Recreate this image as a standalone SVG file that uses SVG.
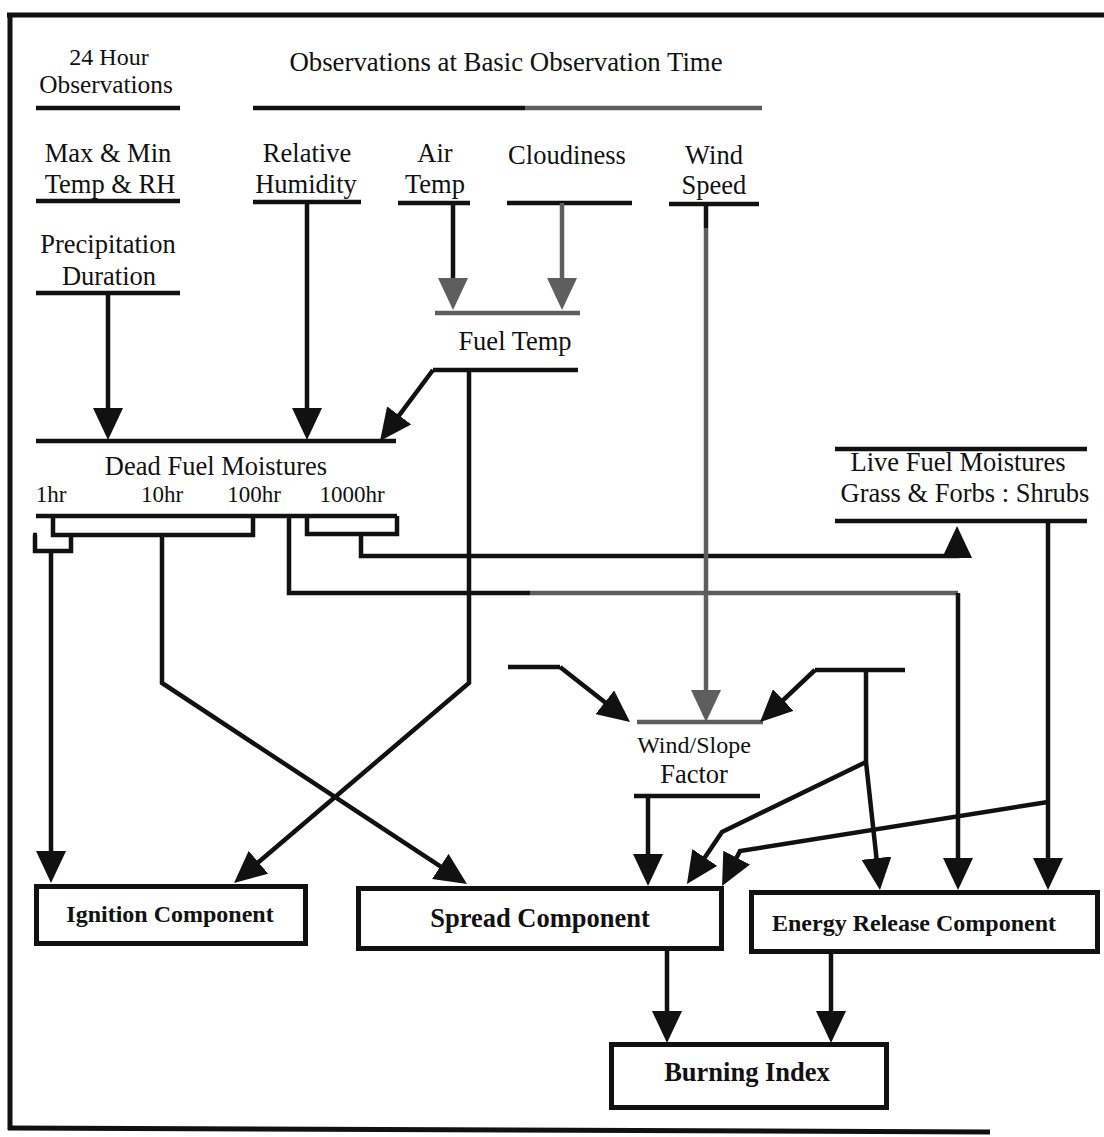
<svg xmlns="http://www.w3.org/2000/svg" width="1104" height="1137" viewBox="0 0 1104 1137">
<style>
.t{font-family:"Liberation Serif","Times New Roman",serif;font-size:26.5px;fill:#111;text-anchor:middle}
.s{font-family:"Liberation Serif","Times New Roman",serif;font-size:23px;fill:#111;text-anchor:middle}
.b{font-family:"Liberation Serif","Times New Roman",serif;font-weight:bold;font-size:24px;fill:#111;text-anchor:middle}
.ln{stroke:#111;stroke-width:4.5;fill:none}
.gl{stroke:#5e5e5e;stroke-width:4.5;fill:none}
.box{stroke:#111;stroke-width:5;fill:#fff}
.frame{stroke:#111;stroke-width:5;fill:none}
</style>
<defs>
<marker id="a" markerUnits="userSpaceOnUse" markerWidth="32" markerHeight="30" refX="26" refY="15" orient="auto" viewBox="0 0 32 30"><path d="M0,0 L32,15 L0,30 z" fill="#111"/></marker>
<marker id="ag" markerUnits="userSpaceOnUse" markerWidth="32" markerHeight="30" refX="26" refY="15" orient="auto" viewBox="0 0 32 30"><path d="M0,0 L32,15 L0,30 z" fill="#5e5e5e"/></marker>
</defs>
<rect width="1104" height="1137" fill="#fff"/>
<g id="frame">
<path class="frame" d="M7,15 H1104"/>
<path class="frame" d="M10,13 V1130"/>
<path class="frame" d="M8,1128 L990,1132"/>
</g>
<g id="obs24">
<text class="t" x="109" y="65" style="font-size:24px">24 Hour</text>
<text class="t" x="106" y="93" style="font-size:25.3px">Observations</text>
<path class="ln" d="M36,108 H180"/>
</g>
<g id="obsBasic">
<text class="t" x="506" y="71" style="font-size:26.8px">Observations at Basic Observation Time</text>
<path class="ln" d="M253,108 H525"/>
<path class="gl" d="M525,108 H762"/>
</g>
<g id="maxmin">
<text class="t" x="108" y="162">Max &amp; Min</text>
<text class="t" x="110" y="193">Temp &amp; RH</text>
<path class="ln" d="M36,201 H180"/>
</g>
<g id="precip">
<text class="t" x="108" y="253">Precipitation</text>
<text class="t" x="109" y="285">Duration</text>
<path class="ln" d="M36,293 H180"/>
</g>
<g id="rh">
<text class="t" x="307" y="162">Relative</text>
<text class="t" x="306" y="193">Humidity</text>
<path class="ln" d="M253,202 H361"/>
</g>
<g id="airtemp">
<text class="t" x="435" y="162">Air</text>
<text class="t" x="435" y="193">Temp</text>
<path class="ln" d="M398,203 H470"/>
</g>
<g id="cloud">
<text class="t" x="567" y="164">Cloudiness</text>
<path class="ln" d="M507,203 H632"/>
</g>
<g id="wind">
<text class="t" x="714" y="164">Wind</text>
<text class="t" x="714" y="194">Speed</text>
<path class="ln" d="M669,204 H759"/>
</g>
<g id="fueltemp">
<path class="gl" d="M435,313 H580"/>
<text class="t" x="515" y="350">Fuel Temp</text>
<path class="ln" d="M433,370 H578"/>
</g>
<g id="deadfuel">
<path class="ln" d="M36,441 H396"/>
<text class="t" x="216" y="475">Dead Fuel Moistures</text>
<text class="s" x="51" y="502">1hr</text>
<text class="s" x="162" y="502">10hr</text>
<text class="s" x="254" y="502">100hr</text>
<text class="s" x="352" y="502">1000hr</text>
<path class="ln" d="M36,516 H397"/>
<path class="ln" d="M53,516 V535 H253 V516"/>
<path class="ln" d="M307,516 V534 H397 V516"/>
<path class="ln" d="M33,535 H37 M35,535 V551 H71 V535"/>
</g>
<g id="livefuel">
<path class="ln" d="M835,449 H1087"/>
<text class="t" x="958" y="471">Live Fuel Moistures</text>
<text class="t" x="965" y="502">Grass &amp; Forbs : Shrubs</text>
<path class="ln" d="M835,521 H1087"/>
</g>
<g id="windslope">
<path class="gl" d="M637,722 H763"/>
<text class="t" x="694" y="753" style="font-size:24px">Wind/Slope</text>
<text class="t" x="694" y="783">Factor</text>
<path class="ln" d="M634,796 H760"/>
</g>
<g id="inputs">
<path class="ln" d="M508,667 H560"/>
<path class="ln" d="M815,670 H905"/>
</g>
<g id="ignition">
<rect class="box" x="36.5" y="886.5" width="269" height="57"/>
<text class="b" x="170" y="922">Ignition Component</text>
</g>
<g id="spread">
<rect class="box" x="358.5" y="888.5" width="363" height="60"/>
<text class="b" x="540" y="927" style="font-size:26.5px">Spread Component</text>
</g>
<g id="erc">
<rect class="box" x="751.5" y="892.5" width="346" height="59"/>
<text class="b" x="914" y="931">Energy Release Component</text>
</g>
<g id="burning">
<rect class="box" x="611.5" y="1044.5" width="275" height="63"/>
<text class="b" x="747" y="1081" style="font-size:26.5px">Burning Index</text>
</g>
<g id="connectors">
<path class="ln" d="M108,293 V434" marker-end="url(#a)"/>
<path class="ln" d="M307,202 V434" marker-end="url(#a)"/>
<path class="ln" d="M453,203 V304" marker-end="url(#ag)"/>
<path class="gl" d="M562,203 V304" marker-end="url(#ag)"/>
<path class="ln" d="M433,370 L383.6,436.2" marker-end="url(#a)"/>
<path class="ln" d="M469,370 V683 L238.6,879.1" marker-end="url(#a)"/>
<path class="ln" d="M51,551 V877" marker-end="url(#a)"/>
<path class="ln" d="M162,535 V683 L462,880.7" marker-end="url(#a)"/>
<path class="ln" d="M289,516 V593 H530"/>
<path class="gl" d="M530,593 H958"/>
<path class="ln" d="M958,593 V884" marker-end="url(#a)"/>
<path class="ln" d="M361,534 V556 H957 V532" marker-end="url(#a)"/>
<path class="ln" d="M706,204 V228"/>
<path class="gl" d="M706,228 V716" marker-end="url(#ag)"/>
<path class="ln" d="M560,667 L625.3,718.3" marker-end="url(#a)"/>
<path class="ln" d="M815,670 L764.4,717.9" marker-end="url(#a)"/>
<path class="ln" d="M866,670 V762 L879.3,884" marker-end="url(#a)"/>
<path class="ln" d="M866,762 L722,832 L690.3,879" marker-end="url(#a)"/>
<path class="ln" d="M1048,521 V884" marker-end="url(#a)"/>
<path class="ln" d="M1048,802 L740,851 L724.8,880.7" marker-end="url(#a)"/>
<path class="ln" d="M648,796 V880" marker-end="url(#a)"/>
<path class="ln" d="M667,951 V1037" marker-end="url(#a)"/>
<path class="ln" d="M831,954 V1037" marker-end="url(#a)"/>
</g>
</svg>
